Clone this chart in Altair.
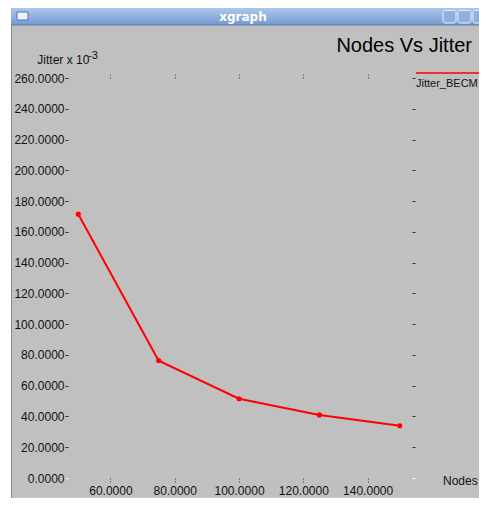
import altair as alt
import pandas as pd

# ---- data ----
nodes = [50, 75, 100, 125, 150]
jitter = [171.5, 76.3, 51.5, 41.0, 34.0]
x_ticks = [60, 80, 100, 120, 140]
y_ticks = [0, 20, 40, 60, 80, 100, 120, 140, 160, 180, 200, 220, 240, 260]
series_name = "Jitter_BECM"
title_text = "Nodes Vs Jitter"
window_title = "xgraph"
x_label = "Nodes"
y_label = "Jitter x 10"
y_label_exp = "-3"

df = pd.DataFrame({"Nodes": nodes, "Jitter": jitter})
one = pd.DataFrame({"k": [0]})

W, H = 344, 400
FONT = "Liberation Sans"
RED = "#ff0000"
x_scale = alt.Scale(domain=[46.8, 153.8], nice=False, zero=False)
y_scale = alt.Scale(domain=[0, 260], nice=False)
tick_col = alt.condition("datum.value == 0", alt.value("#ffffff"), alt.value("#333333"))

bottom_axis = alt.Axis(values=x_ticks, format=".4f", title=None, domain=False, grid=False,
                       tickSize=5, tickDash=[1, 2], tickColor="#333333",
                       labelFont=FONT, labelFontSize=12, labelColor="#111111",
                       labelPadding=2, labelOverlap=False)
left_axis = alt.Axis(values=y_ticks, format=".4f", title=None, domain=False, grid=False,
                     tickSize=3, tickColor=tick_col,
                     labelFont=FONT, labelFontSize=12, labelColor="#111111",
                     labelPadding=1, labelOverlap=False)
top_axis = alt.Axis(values=x_ticks, orient="top", title=None, domain=False, grid=False,
                    labels=False, tickSize=5, tickDash=[1, 2], tickColor="#333333")
right_axis = alt.Axis(values=y_ticks, orient="right", title=None, domain=False, grid=False,
                      labels=False, tickSize=3, tickColor=tick_col)

line = alt.Chart(df).mark_line(color=RED, strokeWidth=2).encode(
    x=alt.X("Nodes:Q", scale=x_scale, axis=bottom_axis),
    y=alt.Y("Jitter:Q", scale=y_scale, axis=left_axis),
)
pts = alt.Chart(df).mark_circle(color=RED, size=26, opacity=1).encode(
    x=alt.X("Nodes:Q", scale=x_scale, axis=None),
    y=alt.Y("Jitter:Q", scale=y_scale, axis=None),
)
frame = alt.Chart(df).mark_point(opacity=0).encode(
    x=alt.X("Nodes:Q", scale=x_scale, axis=top_axis),
    y=alt.Y("Jitter:Q", scale=y_scale, axis=right_axis),
)


def txt(s, x, y, **kw):
    return alt.Chart(one).mark_text(text=s, **kw).encode(x=alt.value(x), y=alt.value(y))


def box(x1, x2, y1, y2, **kw):
    return alt.Chart(one).mark_rect(**kw).encode(
        x=alt.value(x1), x2=alt.value(x2), y=alt.value(y1), y2=alt.value(y2))


# window decoration (title bar, border)
bar_grad = alt.Gradient(gradient="linear", x1=0, x2=0, y1=0, y2=1,
                        stops=[alt.GradientStop(color="#adc8ec", offset=0),
                               alt.GradientStop(color="#7399d2", offset=1)])
deco = [
    box(-60, -57, -70, 440, color="#ffffff"),
    box(-57, -56, -53, 440, color="#8a8a8a"),
    box(-57, 440, -70, -53, color=bar_grad, cornerRadiusTopLeft=4),
    box(-57, 440, -53.5, -52.5, color="#5a7cb0"),
    box(-51, -40, -66, -58, color="#eef3fa", stroke="#4f74ad", strokeWidth=1),
    txt(window_title, 175, -57, font="DejaVu Sans", fontSize=12, fontWeight="bold",
        color="#ffffff", align="center", baseline="alphabetic"),
]
for bx in [375, 390, 405]:
    deco.append(box(bx, bx + 13, -67.5, -55, color="#8fb0de", stroke="#e6eef9",
                    strokeWidth=1, cornerRadius=2))

labels = [
    txt(title_text, 404, -26, font=FONT, fontSize=20, color="#000000",
        align="right", baseline="alphabetic"),
    txt(y_label, -30.7, -14.5, font=FONT, fontSize=12, color="#111111",
        align="left", baseline="alphabetic"),
    txt(y_label_exp, 20, -19, font=FONT, fontSize=11, color="#111111",
        align="left", baseline="alphabetic"),
    txt(series_name, 348, 8.5, font=FONT, fontSize=11, color="#111111",
        align="left", baseline="alphabetic"),
    txt(x_label, 375, 407, font=FONT, fontSize=12, color="#111111",
        align="left", baseline="alphabetic"),
    alt.Chart(one).mark_rule(color=RED, strokeWidth=1.5).encode(
        x=alt.value(348), x2=alt.value(440), y=alt.value(-5)),
]

chart = alt.layer(*deco, frame, line, pts, *labels).resolve_axis(
    x="independent", y="independent"
).properties(
    width=W, height=H,
    autosize=alt.AutoSizeParams(type="none"),
    padding={"left": 60, "top": 70, "right": 67, "bottom": 20},
    background="#c0c0c0",
).configure_view(stroke="transparent")

chart.save("out.html", embed_options={"renderer": "svg", "actions": False})
